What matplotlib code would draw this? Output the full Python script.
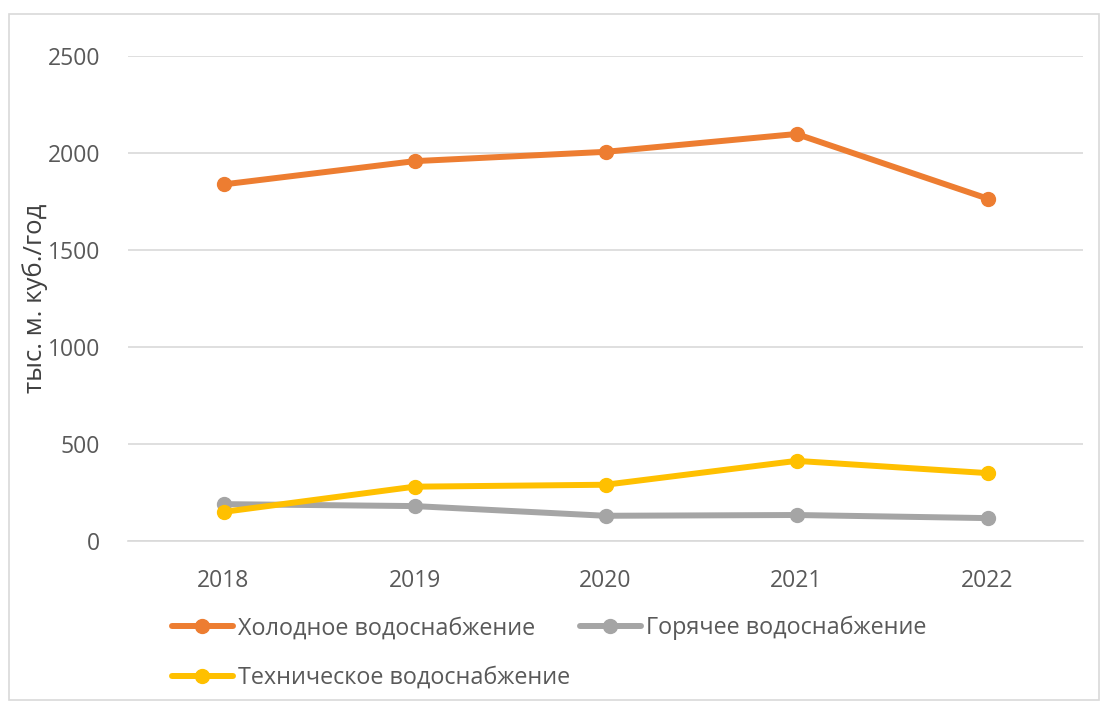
import matplotlib.pyplot as plt
from matplotlib.patches import Rectangle

plt.rcParams['font.family'] = ['Open Sans', 'DejaVu Sans']

years = ["2018", "2019", "2020", "2021", "2022"]
cold = [1838, 1958, 2006, 2098, 1765]
hot = [190, 180, 130, 134, 118]
tech = [150, 280, 290, 413, 350]

labels = ["Холодное водоснабжение", "Горячее водоснабжение", "Техническое водоснабжение"]
colors = ["#ED7D31", "#A5A5A5", "#FFC000"]

fig = plt.figure(figsize=(11.09, 7.05), dpi=100)
ax = fig.add_axes([128 / 1109, 1 - 541 / 705, 955 / 1109, 485 / 705])

x = range(len(years))
lines = []
for vals, lab, col in zip([cold, hot, tech], labels, colors):
    ln, = ax.plot(x, vals, color=col, lw=4.3, marker="o", ms=10, label=lab,
                  solid_capstyle="round")
    lines.append(ln)

ax.set_xlim(-0.5, len(years) - 0.5)
ax.set_ylim(0, 2500)
ax.set_yticks(range(0, 2501, 500))
ax.set_xticks(list(x))
ax.set_xticklabels(years)
ax.grid(axis="y", color="#D9D9D9", lw=1.2)
ax.set_axisbelow(True)
for s in ["top", "right", "left"]:
    ax.spines[s].set_visible(False)
ax.spines["bottom"].set_color("#D9D9D9")
ax.spines["bottom"].set_linewidth(1.2)
ax.tick_params(length=0, labelsize=16.5, labelcolor="#595959")
ax.tick_params(axis="x", pad=20)
ax.tick_params(axis="y", pad=20)
ax.set_ylabel("тыс. м. куб./год", fontsize=18.5, color="#404040")
ax.yaxis.set_label_coords(-80 / 955, 0.5)

# legend: two items in first row, one in second
fig.legend([lines[0], lines[2], lines[1]], [labels[0], labels[2], labels[1]],
           ncol=2, loc="upper left", bbox_to_anchor=(172 / 1109, 1 - 616 / 705),
           frameon=False, fontsize=16.8, labelcolor="#595959", borderpad=0,
           borderaxespad=0, handlelength=2.6, handletextpad=0.25,
           columnspacing=0.4, labelspacing=1.1)

# outer chart border
fig.patches.append(Rectangle((9 / 1109, 5 / 705), 1090 / 1109, 686 / 705,
                             transform=fig.transFigure, fill=False,
                             edgecolor="#D9D9D9", lw=1.2))

fig.savefig("out.png", dpi=100)
